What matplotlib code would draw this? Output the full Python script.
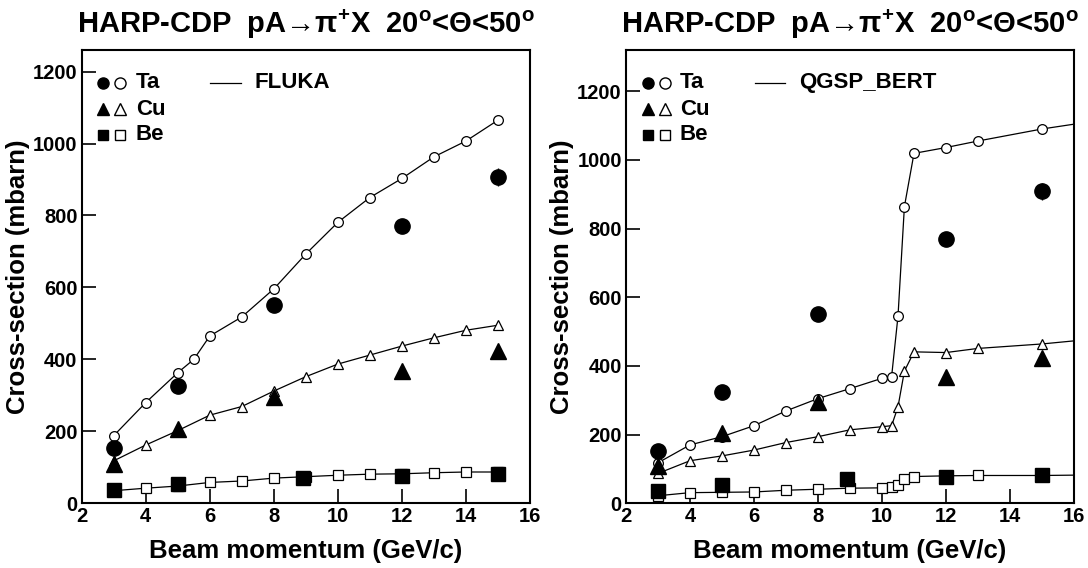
import matplotlib
matplotlib.use("Agg")
import matplotlib.pyplot as plt

# ---------------- data ----------------
data_ta_x = [3, 5, 8, 12, 15]
data_ta_y = [153, 325, 552, 771, 908]
data_ta_err = [6, 10, 12, 18, 25]
data_cu_x = [3, 5, 8, 12, 15]
data_cu_y = [110, 206, 296, 367, 424]
data_be_x = [3, 5, 8.9, 12, 15]
data_be_y = [36, 54, 70, 77, 81]

fluka_ta_x = [3, 4, 5, 5.5, 6, 7, 8, 9, 10, 11, 12, 13, 14, 15]
fluka_ta_y = [188, 280, 363, 400, 465, 518, 596, 693, 781, 850, 903, 963, 1007, 1065]
fluka_cu_x = [3, 4, 5, 6, 7, 8, 9, 10, 11, 12, 13, 14, 15]
fluka_cu_y = [118, 162, 202, 245, 269, 312, 352, 387, 412, 437, 460, 481, 495]
fluka_be_x = [3, 4, 5, 6, 7, 8, 9, 10, 11, 12, 13, 14, 15]
fluka_be_y = [35, 42, 48, 58, 62, 70, 74, 78, 81, 82, 85, 87, 87]

qgsp_x = [3, 4, 5, 6, 7, 8, 9, 10, 10.3, 10.5, 10.7, 11, 12, 13, 15]
qgsp_ta_y = [118, 170, 194, 226, 269, 305, 334, 364, 369, 545, 864, 1019, 1036, 1055, 1090]
qgsp_cu_y = [87, 124, 138, 155, 177, 194, 214, 223, 226, 281, 385, 441, 439, 451, 464]
qgsp_be_y = [22, 31, 32, 33, 38, 41, 44, 45, 47, 54, 71, 78, 80, 81, 81]
qgsp_end_x = 16
qgsp_end = {"Ta": 1104, "Cu": 473, "Be": 82}

x_ticks = [2, 4, 6, 8, 10, 12, 14, 16]
y_ticks = [0, 200, 400, 600, 800, 1000, 1200]
elements = ["Ta", "Cu", "Be"]
title_text = "HARP-CDP  pA\u2192\u03c0$^{\\mathbf{+}}$X  20$^{\\mathbf{o}}$<\u0398<50$^{\\mathbf{o}}$"

# ---------------- style ----------------
fam = ["Liberation Sans", "DejaVu Sans"]
plt.rcParams["font.family"] = fam
plt.rcParams["mathtext.fontset"] = "custom"
plt.rcParams["mathtext.rm"] = "Liberation Sans"
plt.rcParams["mathtext.it"] = "Liberation Sans:italic"
plt.rcParams["mathtext.bf"] = "Liberation Sans:bold"

fig = plt.figure(figsize=(10.88, 5.68), dpi=100)
W, H = 1088, 568

def mk_axes(left_px, right_px, top_px, bottom_px):
    return fig.add_axes([left_px / W, 1 - bottom_px / H,
                         (right_px - left_px) / W, (bottom_px - top_px) / H])

axL = mk_axes(81.7, 530, 50, 503.3)
axR = mk_axes(626, 1074, 50, 503.3)

markers_filled = {"Ta": ("o", 11), "Cu": ("^", 11), "Be": ("s", 10)}
markers_open = {"Ta": ("o", 7), "Cu": ("^", 7.5), "Be": ("s", 6.5)}

data = {
    "Ta": (data_ta_x, data_ta_y),
    "Cu": (data_cu_x, data_cu_y),
    "Be": (data_be_x, data_be_y),
}

def style_axes(ax, ymax):
    ax.set_xlim(2, 16)
    ax.set_ylim(0, ymax)
    ax.set_xticks(x_ticks)
    ax.set_yticks(y_ticks)
    ax.tick_params(direction="in", length=10, width=1.2, labelsize=14.5,
                   top=False, right=False, pad=3)
    for lab in ax.get_xticklabels() + ax.get_yticklabels():
        lab.set_fontweight("bold")
    for s in ax.spines.values():
        s.set_linewidth(1.5)
    ax.set_xlabel("Beam momentum (GeV/c)", fontsize=18.5, fontweight="bold", labelpad=9)
    ax.set_ylabel("Cross-section (mbarn)", fontsize=18.5, fontweight="bold", labelpad=2)
    ax.set_title(title_text, fontsize=21, fontweight="bold", pad=12)

def legend(ax, model, xs):
    rows = [0.928, 0.869, 0.8125]
    for el, yy in zip(elements, rows):
        m, _ = markers_filled[el]
        ax.plot([xs[0]], [yy], marker=m, ms=8 if m != "s" else 7.5, color="black",
                transform=ax.transAxes, clip_on=False, ls="none")
        ax.plot([xs[1]], [yy], marker=m, ms=8 if m != "s" else 7.5, mfc="white",
                mec="black", mew=1.0, transform=ax.transAxes, clip_on=False, ls="none")
        ax.text(xs[2], yy, el, transform=ax.transAxes, fontsize=16,
                fontweight="bold", va="center", ha="left")
    ax.plot([0.287, 0.356], [rows[0], rows[0]], color="black", lw=0.9,
            transform=ax.transAxes)
    ax.text(0.386, rows[0], model, transform=ax.transAxes, fontsize=16,
            fontweight="bold", va="center", ha="left")

# ---------- left: FLUKA ----------
fluka = {"Ta": (fluka_ta_x, fluka_ta_y), "Cu": (fluka_cu_x, fluka_cu_y),
         "Be": (fluka_be_x, fluka_be_y)}
for el in elements:
    x, y = fluka[el]
    m, ms = markers_open[el]
    axL.plot(x, y, color="black", lw=0.9, marker=m, ms=ms, mfc="white",
             mec="black", mew=0.9, zorder=2)
for el in elements:
    x, y = data[el]
    m, ms = markers_filled[el]
    if el == "Ta":
        axL.errorbar(x, y, yerr=data_ta_err, fmt="none", ecolor="black",
                     elinewidth=1.0, zorder=3)
    axL.plot(x, y, ls="none", marker=m, ms=ms, color="black", zorder=4)
style_axes(axL, 1260)
legend(axL, "FLUKA", [0.047, 0.086, 0.121])

# ---------- right: QGSP_BERT ----------
qgsp = {"Ta": qgsp_ta_y, "Cu": qgsp_cu_y, "Be": qgsp_be_y}
for el in elements:
    y = qgsp[el]
    m, ms = markers_open[el]
    axR.plot(qgsp_x + [qgsp_end_x], y + [qgsp_end[el]], color="black", lw=0.9, zorder=2)
    axR.plot(qgsp_x, y, ls="none", marker=m, ms=ms, mfc="white",
             mec="black", mew=0.9, zorder=2)
for el in elements:
    x, y = data[el]
    m, ms = markers_filled[el]
    if el == "Ta":
        axR.errorbar(x, y, yerr=data_ta_err, fmt="none", ecolor="black",
                     elinewidth=1.0, zorder=3)
    axR.plot(x, y, ls="none", marker=m, ms=ms, color="black", zorder=4)
style_axes(axR, 1320)
legend(axR, "QGSP_BERT", [0.05, 0.087, 0.12])

fig.savefig("out.png", dpi=100)
